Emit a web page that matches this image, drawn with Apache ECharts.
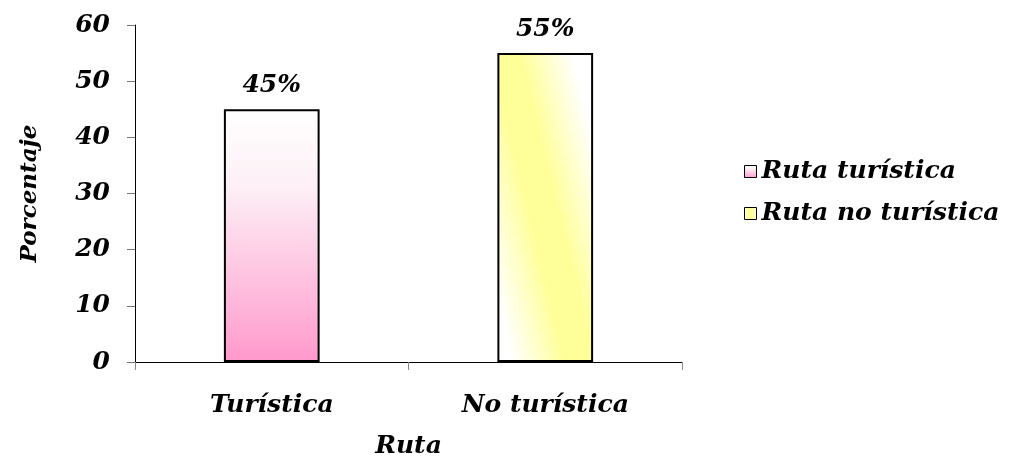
<!DOCTYPE html>
<html><head><meta charset="utf-8">
<script src="https://cdn.jsdelivr.net/npm/echarts@6/dist/echarts.min.js"></script>
<style>html,body{margin:0;padding:0;background:#fff}#c{width:1012px;height:459px}</style>
</head><body><div id="c"></div>
<script>
const categories = ['Turística', 'No turística'];
const seriesNames = ['Ruta turística', 'Ruta no turística'];
const values = [45, 55];
const yTicks = [0, 10, 20, 30, 40, 50, 60];

const FONT = '"DejaVu Serif", serif';
const pinkGrad = new echarts.graphic.LinearGradient(0, 0, 0, 1, [
  {offset: 0, color: '#ffffff'}, {offset: 0.3, color: '#fdf0f6'}, {offset: 1, color: '#ff99cc'}]);
const yellowGrad = new echarts.graphic.LinearGradient(-0.4, 0.567, 1.35, 0.437, [
  {offset: 0, color: '#ffffff'}, {offset: 0.12, color: '#ffffff'}, {offset: 0.42, color: '#ffff99'},
  {offset: 0.58, color: '#ffff99'}, {offset: 0.88, color: '#ffffff'}, {offset: 1, color: '#ffffff'}]);
const fills = [pinkGrad, yellowGrad];

const chart = echarts.init(document.getElementById('c'), null, {renderer: 'canvas'});
const series = seriesNames.map((n, i) => ({
  name: n, type: 'bar', stack: 'a',
  data: values.map((v, j) => j === i ? v : '-'),
  barWidth: '35%',
  itemStyle: {color: fills[i], borderColor: '#000', borderWidth: 2},
  label: {show: true, position: 'top', distance: 11, formatter: p => p.value + '%',
    fontFamily: FONT, fontStyle: 'italic', fontWeight: 'bold', fontSize: 25, color: '#000'}
}));

chart.setOption({
  animation: false,
  grid: {left: 135, right: 330, top: 25, bottom: 97, containLabel: false, outerBoundsMode: 'none'},
  legend: {
    orient: 'vertical', left: 739, top: 154, itemWidth: 12, itemHeight: 12, itemGap: 17,
    icon: 'rect',
    itemStyle: {borderColor: '#000', borderWidth: 1},
    textStyle: {fontFamily: FONT, fontStyle: 'italic', fontWeight: 'bold', fontSize: 25, color: '#000'},
    data: seriesNames
  },
  xAxis: {
    type: 'category', data: categories,
    name: 'Ruta', nameLocation: 'middle', nameGap: 72,
    nameTextStyle: {fontFamily: FONT, fontStyle: 'italic', fontWeight: 'bold', fontSize: 25, color: '#000'},
    axisLine: {lineStyle: {color: '#000', width: 1}},
    axisTick: {show: true, alignWithLabel: false, length: 8, lineStyle: {color: '#888'}},
    axisLabel: {margin: 31, fontFamily: FONT, fontStyle: 'italic', fontWeight: 'bold', fontSize: 25, color: '#000'}
  },
  yAxis: {
    type: 'value', min: 0, max: 60, interval: 10,
    name: 'Porcentaje', nameLocation: 'middle', nameGap: 93, nameRotate: 90,
    nameTextStyle: {fontFamily: FONT, fontStyle: 'italic', fontWeight: 'bold', fontSize: 23, color: '#000'},
    axisLine: {show: true, lineStyle: {color: '#000', width: 1}},
    axisTick: {show: true, length: 8, lineStyle: {color: '#777'}},
    splitLine: {show: false},
    axisLabel: {margin: 25, fontFamily: FONT, fontStyle: 'italic', fontWeight: 'bold', fontSize: 25, color: '#000',
      formatter: v => yTicks.includes(v) ? String(v) : ''}
  },
  series: series
});
</script></body></html>
